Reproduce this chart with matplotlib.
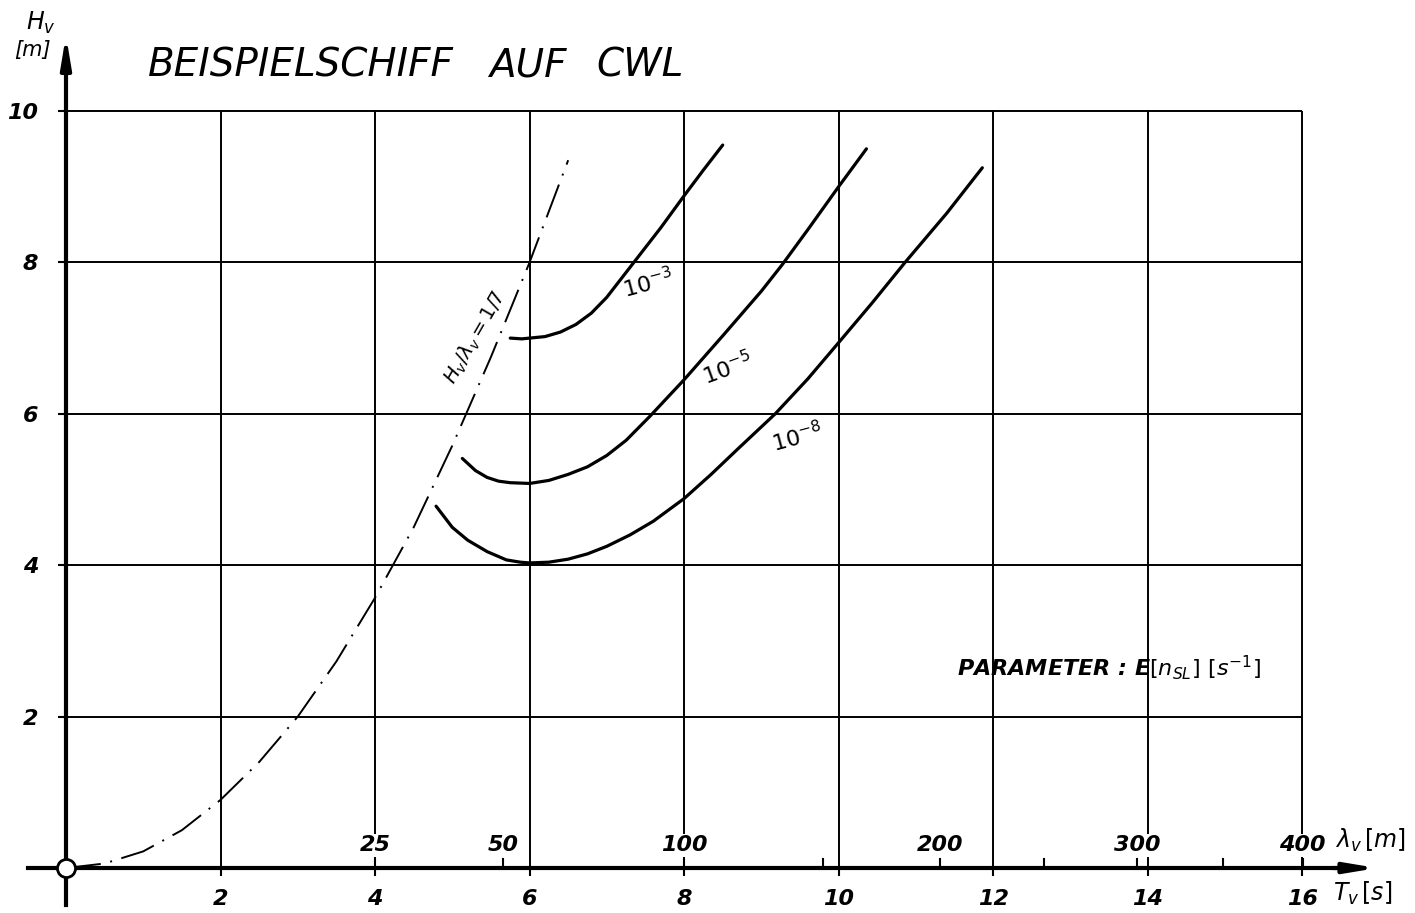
import numpy as np
import matplotlib
matplotlib.use("Agg")
import matplotlib.pyplot as plt

plt.rcParams['font.family'] = ['DejaVu Sans']
plt.rcParams['mathtext.fontset'] = 'dejavusans'

# axis ticks
T_TICKS = [2, 4, 6, 8, 10, 12, 14, 16]
H_TICKS = [2, 4, 6, 8, 10]
LAMBDA_TICKS = [25, 50, 100, 150, 200, 250, 300, 350, 400]
LAMBDA_LABELS = [25, 50, 100, 200, 300, 400]

# H_v / lambda_v = 1/7 limit
steep_T = [0, 0.5, 1, 1.5, 2, 2.5, 3, 3.5, 4, 4.5, 5, 5.5, 6, 6.5]
steep_H = [0, 0.06, 0.22, 0.5, 0.9, 1.4, 2.0, 2.73, 3.57, 4.5, 5.58, 6.75, 8.0, 9.35]

# curves, parameter E[n_SL]
e3_T = [5.75, 5.9, 6.0, 6.2, 6.4, 6.6, 6.8, 7.0, 7.35, 7.7, 8.0, 8.25, 8.5]
e3_H = [7.0, 6.99, 7.0, 7.02, 7.08, 7.18, 7.33, 7.54, 8.0, 8.46, 8.88, 9.22, 9.55]

e5_T = [5.13, 5.3, 5.45, 5.6, 5.75, 6.0, 6.25, 6.5, 6.75, 7.0, 7.25, 7.56, 8.0,
        8.5, 9.0, 9.27, 9.6, 10.0, 10.36]
e5_H = [5.41, 5.25, 5.16, 5.11, 5.09, 5.08, 5.12, 5.2, 5.3, 5.45, 5.65, 5.97, 6.45,
        7.03, 7.62, 7.97, 8.43, 9.0, 9.5]

e8_T = [4.79, 5.0, 5.2, 5.45, 5.7, 5.88, 6.0, 6.25, 6.5, 6.75, 7.0, 7.3, 7.6, 8.0,
        8.35, 8.7, 9.18, 9.6, 10.0, 10.43, 10.86, 11.4, 11.86]
e8_H = [4.78, 4.5, 4.33, 4.18, 4.07, 4.04, 4.03, 4.04, 4.08, 4.15, 4.25, 4.4, 4.58, 4.88,
        5.2, 5.54, 6.0, 6.46, 6.94, 7.46, 8.0, 8.65, 9.25]


def lam_to_T(lam):
    # deep water wave: lambda = g T^2 / (2 pi)
    return np.sqrt(2 * np.pi * np.asarray(lam, dtype=float) / 9.81)


fig = plt.figure(figsize=(14.15, 9.13), dpi=100)
ax = fig.add_axes([0, 0, 1, 1])
ax.set_xlim(-0.854, 17.46)
ax.set_ylim(-0.594, 11.466)

# grid only inside the 0..16 x 0..10 frame
ax.vlines(T_TICKS, 0, 10, color='k', lw=1.4, zorder=1)
ax.hlines(H_TICKS, 0, 16, color='k', lw=1.4, zorder=1)

# axes
for s in ['top', 'right']:
    ax.spines[s].set_visible(False)
ax.spines['left'].set_position(('data', 0))
ax.spines['bottom'].set_position(('data', 0))
ax.spines['left'].set_bounds(-0.49, 10.6)
ax.spines['bottom'].set_bounds(-0.49, 16.5)
ax.spines['left'].set_linewidth(3)
ax.spines['bottom'].set_linewidth(3)
ax.annotate('', xy=(16.97, 0), xytext=(16.4, 0),
            arrowprops=dict(arrowstyle='-|>,head_length=1.8,head_width=0.3',
                            lw=3, color='k', shrinkA=0, shrinkB=0))
ax.annotate('', xy=(0, 11.0), xytext=(0, 10.5),
            arrowprops=dict(arrowstyle='-|>,head_length=1.8,head_width=0.3',
                            lw=3, color='k', shrinkA=0, shrinkB=0))

ax.set_xticks(T_TICKS)
ax.set_yticks(H_TICKS)
ax.tick_params(axis='x', direction='out', length=6, width=1.5, pad=9, labelsize=16)
ax.tick_params(axis='y', direction='out', length=6, width=1.5, pad=14, labelsize=16)
for lbl in ax.get_xticklabels() + ax.get_yticklabels():
    lbl.set_style('oblique')
    lbl.set_weight('bold')

# wavelength scale on the T axis
lam_pos = lam_to_T(LAMBDA_TICKS)
for t in lam_pos:
    ax.plot([t, t], [0, 0.12], color='k', lw=1.5, zorder=3)
for lam, t in zip(LAMBDA_LABELS, lam_to_T(LAMBDA_LABELS)):
    ax.text(t, 0.3, str(lam), ha='center', va='center', fontsize=16,
            style='oblique', weight='bold', zorder=4,
            bbox=dict(fc='white', ec='none', pad=1))

ax.plot([0], [0], 'o', ms=13, mfc='white', mec='k', mew=2, zorder=6)

# curves
ax.plot(steep_T, steep_H, color='k', lw=1.4, ls=(0, (18, 5, 1, 5)), zorder=3)
for tt, hh in [(e3_T, e3_H), (e5_T, e5_H), (e8_T, e8_H)]:
    ax.plot(tt, hh, color='k', lw=2.3, solid_capstyle='round',
            solid_joinstyle='round', zorder=3)

# labels
ax.text(7.53, 7.72, r'$10^{-3}$', fontsize=16, rotation=15, ha='center', va='center')
ax.text(8.56, 6.6, r'$10^{-5}$', fontsize=16, rotation=20, ha='center', va='center')
ax.text(9.46, 5.69, r'$10^{-8}$', fontsize=16, rotation=15, ha='center', va='center')
ax.text(5.3, 7.0, r'$H_v/\lambda_v = 1/7$', fontsize=14, rotation=60,
        ha='center', va='center')

ax.text(1.06, 10.6, 'BEISPIELSCHIFF', fontsize=28, style='oblique',
        ha='left', va='center')
ax.text(5.47, 10.6, 'AUF', fontsize=28, style='oblique', ha='left', va='center')
ax.text(6.87, 10.6, 'CWL', fontsize=28, style='oblique', ha='left', va='center')
ax.text(11.53, 2.65, r'PARAMETER : E$[n_{SL}]$ $[s^{-1}]$', fontsize=16,
        style='oblique', weight='bold', ha='left', va='center')

ax.text(-0.33, 11.16, r'$H_v$', fontsize=17, ha='center', va='center')
ax.text(-0.43, 10.8, '[m]', fontsize=15, style='oblique', ha='center', va='center')
ax.text(16.43, 0.36, r'$\lambda_v\,[m]$', fontsize=17, ha='left', va='center')
ax.text(16.4, -0.33, r'$T_v\,[s]$', fontsize=17, ha='left', va='center')

fig.savefig('out.png', dpi=100)
